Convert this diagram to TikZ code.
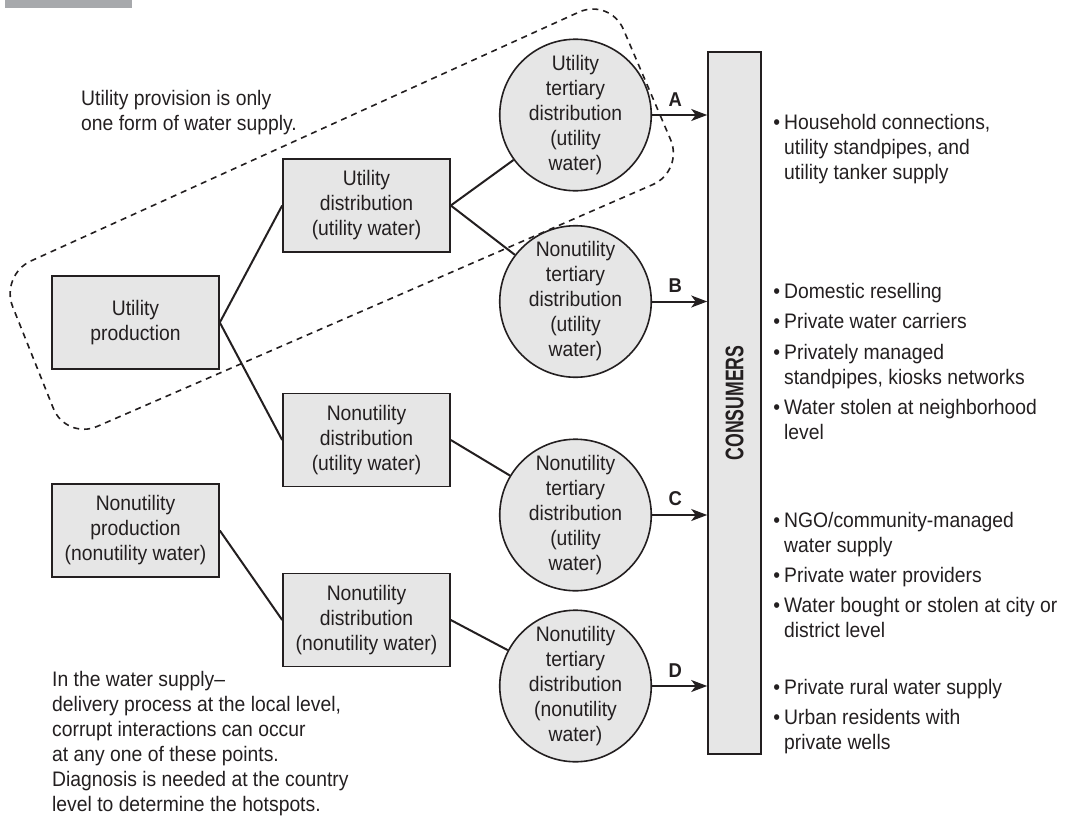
\documentclass[tikz,border=0pt]{standalone}
\usepackage{fontspec}
\setmainfont[FakeStretch=0.92]{Liberation Sans}
\usetikzlibrary{arrows.meta}
\definecolor{ink}{HTML}{231F20}
\definecolor{boxfill}{HTML}{E6E6E6}
\definecolor{bargray}{HTML}{A7A9AC}
\newcommand\bul{\strut\llap{•\hspace{4pt}}}
\begin{document}
\begin{tikzpicture}[x=1pt,y=-1pt,
  every node/.style={text=ink, font=\fontsize{21}{25}\selectfont},
  box/.style={draw=ink, fill=boxfill, line width=1.6pt, minimum width=167pt, minimum height=93pt, align=center, inner sep=2pt},
  tert/.style={circle, draw=ink, fill=boxfill, line width=1.6pt, minimum size=145pt, inner sep=0pt, align=center},
  link/.style={draw=ink, line width=2pt},
  flow/.style={link, -{Stealth[length=16pt,width=12pt,inset=4.5pt]}},
  lab/.style={font=\fontsize{20}{22}\selectfont\bfseries, inner sep=0pt},
  note/.style={align=left, anchor=north west, inner sep=0pt},
  outline/.style={draw=ink, line width=1.6pt, dash pattern=on 6pt off 5pt, rounded corners=34pt}
]
\useasboundingbox (0,0) rectangle (1066,819);
\fill[bargray] (5,0) rectangle (132,7.5);

% dashed outline of utility provision
\path[outline] (647,84.5) -- (684,171) -- (66,440) -- (0,275) -- (610,-2) -- cycle;

% boxes
\node[box] (up)  at (135.5,322.5) {Utility\\production};
\node[box] (ud)  at (366.5,205.5) {Utility\\distribution\\(utility water)};
\node[box] (nd1) at (366.5,440)   {Nonutility\\distribution\\(utility water)};
\node[box] (np)  at (135.5,530.5) {Nonutility\\production\\(nonutility water)};
\node[box] (nd2) at (366.5,620)   {Nonutility\\distribution\\(nonutility water)};

% tertiary circles
\node[tert] (ca) at (575.5,115)   {Utility\\tertiary\\distribution\\(utility\\water)};
\node[tert] (cb) at (575.5,301.5) {Nonutility\\tertiary\\distribution\\(utility\\water)};
\node[tert] (cc) at (575.5,515)   {Nonutility\\tertiary\\distribution\\(utility\\water)};
\node[tert] (cd) at (575.5,686)   {Nonutility\\tertiary\\distribution\\(nonutility\\water)};

% consumers
\node[draw=ink, fill=boxfill, line width=1.6pt, rotate=90, minimum width=702pt, minimum height=53pt, inner sep=0pt] (cons) at (734.5,403)
  {\scalebox{0.754}[1]{\fontsize{25.5}{28}\selectfont\bfseries CONSUMERS}};

% connectors
\draw[link] (up.east) -- (ud.west);
\draw[link] (up.east) -- (nd1.west);
\draw[link] (ud.east) -- (ca);
\draw[link] (ud.east) -- (cb);
\draw[link] (nd1.east) -- (cc);
\draw[link] (np.east) -- (nd2.west);
\draw[link] (nd2.east) -- (cd);

\draw[flow] (ca) -- (ca -| cons.north) node[lab, pos=0.42, above=8pt] {A};
\draw[flow] (cb) -- (cb -| cons.north) node[lab, pos=0.42, above=8pt] {B};
\draw[flow] (cc) -- (cc -| cons.north) node[lab, pos=0.42, above=8pt] {C};
\draw[flow] (cd) -- (cd -| cons.north) node[lab, pos=0.42, above=8pt] {D};

% notes
\node[note] (t1) at (81,87.5) {\strut Utility provision is only\\one form of water supply.};
\node[note] (t2) at (52,668.5) {\strut In the water supply–\\delivery process at the local level,\\corrupt interactions can occur\\at any one of these points.\\Diagnosis is needed at the country\\level to determine the hotspots.};

% consumer lists
\node[note] (la) at (784,111.5) {\bul Household connections,\\utility standpipes, and\\utility tanker supply};
\node[note] (lb) at (784,280.5) {\bul Domestic reselling\\[5.5pt]\bul Private water carriers\\[5.5pt]\bul Privately managed\\standpipes, kiosks networks\\[5.5pt]\bul Water stolen at neighborhood\\level};
\node[note] (lc) at (784,509.5) {\bul NGO/community-managed\\water supply\\[5pt]\bul Private water providers\\[5pt]\bul Water bought or stolen at city or\\district level};
\node[note] (ld) at (784,676.5) {\bul Private rural water supply\\[5.5pt]\bul Urban residents with\\private wells};
\end{tikzpicture}
\end{document}
